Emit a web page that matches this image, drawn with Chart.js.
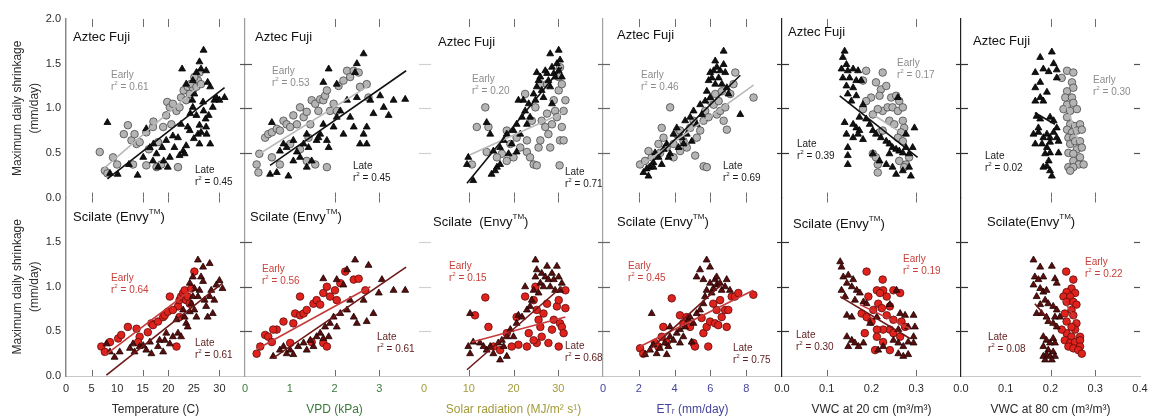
<!DOCTYPE html>
<html>
<head>
<meta charset="utf-8">
<script src="https://cdn.jsdelivr.net/npm/chart.js@4.4.1/dist/chart.umd.min.js"></script>
<style>
body { margin: 0; background: #fff; }
#wrap { position: relative; width: 1149px; height: 419px; }
#wrap canvas { position: absolute; left: 0; top: 0; }
</style>
</head>
<body>
<div id="wrap"></div>
<script>
// x axes, one per driver
const drivers = ['Temperature (C)', 'VPD (kPa)', 'Solar radiation (MJ/m² s¹)', 'ETᵣ (mm/day)', 'VWC at 20 cm (m³/m³)', 'VWC at 80 cm (m³/m³)']
const xMax = [35, 4, 40, 10, 0.4, 0.4]
const xStep = [5, 1, 10, 2, 0.1, 0.1]
const innerTicks = [[5, 15, 20, 30], [2, 3], [10, 20, 30], [2, 4, 6, 8], [0.1, 0.3], [0.2, 0.3]]
const yTitle = ['Maximum daily shrinkage', '(mm/day)']
const scilateNames = ['Scilate (Envy', 'Scilate (Envy', 'Scilate  (Envy', 'Scilate (Envy', 'Scilate (Envy', 'Scilate(Envy']

const r2FujiEarly = ['0.61', '0.53', '0.20', '0.46', '0.17', '0.30']
const r2FujiLate = ['0.45', '0.45', '0.71', '0.69', '0.39', '0.02']
const r2ScilateEarly = ['0.64', '0.56', '0.15', '0.45', '0.19', '0.22']
const r2ScilateLate = ['0.61', '0.61', '0.68', '0.75', '0.30', '0.08']

// Aztec Fuji, early (circles) and late (triangles)
const fujiTempEarly = [[6.6,.51],[7.6,.30],[8.1,.27],[9.2,.45],[10.0,.37],[11.3,.71],[12.1,.81],[12.8,.64],[13.4,.71],[13.8,.60],[14.4,.62],[15.7,.73],[16.2,.54],[17.0,.79],[17.1,.85],[18.0,.62],[19.0,.79],[19.8,1.07],[19.6,.92],[20.3,1.01],[20.6,.82],[20.9,1.05],[21.6,.97],[22.2,1.01],[22.5,1.12],[23.0,1.20],[23.5,1.09],[23.8,1.24],[24.3,1.27],[24.8,1.20],[25.5,1.24],[25.8,1.31],[26.1,1.40],[26.4,1.27],[21.9,.34],[18.6,.37],[17.7,.34],[15.7,.36],[13.1,.37],[25.1,1.35],[24.2,1.16]]
const fujiTempLate = [[8.1,.84],[8.6,.27],[10.1,.26],[12.3,.37],[14.0,.25],[15.7,.77],[16.4,.56],[17.1,.60],[17.7,.49],[18.0,.34],[18.8,.56],[19.1,.41],[19.6,.64],[20.3,.45],[20.9,.69],[21.2,.56],[21.9,.67],[22.5,.82],[22.9,.52],[23.2,.49],[23.5,.58],[23.8,.79],[24.2,.75],[24.3,.94],[24.7,1.09],[24.8,1.01],[25.1,1.16],[25.5,.92],[25.8,.71],[26.1,.81],[26.4,.73],[26.8,1.07],[26.9,.97],[27.3,.88],[27.4,.79],[27.5,.71],[27.9,.92],[28.2,.60],[28.7,1.01],[29.0,1.09],[26.9,1.65],[26.1,1.52],[26.4,1.44],[25.5,1.40],[24.8,1.31],[22.7,1.44],[23.5,1.27],[27.4,1.42],[27.7,1.29],[28.2,1.24],[29.4,1.12],[30.0,1.09],[31.0,1.12],[22.2,.47],[19.9,.34],[17.0,.41],[15.1,.45],[26.1,.60],[25.0,.66]]
const fujiVpdEarly = [[.30,.28],[.26,.37],[.32,.49],[.45,.67],[.52,.71],[.60,.73],[.71,.77],[.78,.75],[.86,.86],[.93,.82],[1.01,.79],[1.08,.92],[1.16,.82],[1.23,1.01],[1.31,.90],[1.38,.96],[1.46,.82],[1.49,1.09],[1.57,1.05],[1.64,.97],[1.68,1.10],[1.75,1.09],[1.79,1.14],[1.83,1.20],[1.90,.97],[1.98,1.05],[2.05,.97],[2.09,1.25],[2.20,1.31],[2.28,1.42],[2.35,1.35],[2.43,1.42],[2.54,1.40],[2.57,1.24],[2.72,1.27],[2.76,1.12],[1.83,.34],[1.57,.37],[1.38,.41],[.78,.37],[.60,.45],[1.01,.60],[1.23,.54],[1.42,.67]]
const fujiVpdLate = [[.60,.84],[.56,.26],[.71,.28],[.97,.24],[.78,.52],[.86,.60],[.93,.56],[1.08,.64],[1.16,.51],[1.23,.45],[1.31,.60],[1.38,.71],[1.49,.41],[1.60,.64],[1.68,.71],[1.75,.82],[1.83,.64],[1.87,.56],[1.98,.79],[2.05,.90],[2.13,.97],[2.20,.71],[2.28,1.09],[2.35,.90],[2.43,.79],[2.50,1.12],[2.57,.60],[2.65,.71],[2.72,.60],[2.80,1.09],[2.87,.94],[3.02,1.14],[3.21,.92],[3.32,1.09],[3.58,1.10],[2.65,1.61],[2.50,1.50],[2.46,1.40],[1.87,1.44],[1.75,1.29],[2.05,1.27],[1.64,.67],[1.42,.56],[1.08,.41],[1.38,.34],[2.72,.79],[3.10,1.01]]
const fujiSolarEarly = [[13.7,1.01],[11.8,.79],[14.4,.79],[10.7,.37],[18.5,.75],[19.3,.60],[20.7,.67],[22.6,1.16],[23.0,.51],[23.7,.45],[24.5,.37],[25.2,.36],[25.6,.56],[26.0,.64],[26.3,.86],[27.1,.79],[27.5,.94],[27.8,.71],[28.2,.56],[28.6,.82],[29.0,1.09],[29.3,.97],[29.7,.90],[30.1,1.20],[30.4,.64],[30.8,.79],[31.2,.97],[31.6,1.09],[30.8,1.27],[30.1,1.35],[30.4,1.46],[26.0,1.27],[27.5,1.27],[24.9,1.01],[24.1,.86],[23.0,.64],[21.5,.56],[20.0,.45],[18.5,.41],[17.4,.49],[16.3,.45],[14.0,.51],[30.3,.36],[31.2,.64]]
const fujiSolarLate = [[9.9,.45],[9.6,.37],[11.0,.19],[14.0,.84],[14.8,.71],[15.5,.52],[16.3,.34],[17.0,.56],[17.8,.64],[18.5,.71],[18.9,.49],[19.6,.60],[20.0,.75],[20.7,.82],[21.5,.71],[21.9,.90],[22.2,1.09],[22.6,.97],[23.4,1.05],[23.7,.90],[24.5,1.16],[24.9,1.09],[25.2,1.24],[25.6,1.31],[26.0,1.35],[26.3,1.20],[26.7,1.12],[27.1,1.42],[27.5,1.39],[27.8,1.31],[28.2,1.24],[28.6,1.46],[29.0,1.39],[29.3,1.35],[29.7,1.50],[30.1,1.42],[30.4,1.54],[30.8,1.35],[28.2,1.61],[30.1,1.65],[25.2,1.40],[23.0,.82],[20.7,.51],[17.0,.37],[15.9,.30],[15.1,.26],[21.1,1.09],[28.6,1.05]]
const fujiEtEarly = [[2.07,.37],[2.35,.41],[2.72,.45],[3.28,.78],[3.38,.67],[3.75,1.01],[3.56,.56],[3.94,.60],[4.12,.71],[4.31,.75],[4.50,.63],[4.68,.56],[4.87,.78],[5.06,.86],[5.15,.47],[5.24,.67],[5.43,.75],[5.62,.86],[5.71,.97],[5.90,.90],[5.99,1.08],[6.18,1.04],[6.27,1.16],[6.36,.93],[6.46,1.08],[6.55,.97],[6.64,1.19],[6.74,.86],[6.83,1.01],[6.92,.76],[7.11,1.16],[7.29,1.27],[7.39,1.40],[8.41,1.12],[5.62,.35],[5.80,.34],[4.31,.52],[3.10,.60],[2.54,.52],[3.19,.50],[3.94,.45]]
const fujiEtLate = [[2.26,.28],[2.54,.24],[2.63,.34],[2.82,.39],[2.91,.50],[3.10,.45],[3.28,.37],[3.38,.54],[3.56,.60],[3.75,.49],[3.94,.71],[4.12,.78],[4.22,.56],[4.40,.67],[4.59,.86],[4.68,.71],[4.87,.90],[4.96,.63],[5.06,.97],[5.24,.82],[5.43,1.04],[5.52,.93],[5.71,1.08],[5.80,1.19],[5.90,1.31],[5.99,1.12],[6.08,1.34],[6.18,1.42],[6.27,1.27],[6.36,1.46],[6.46,1.34],[6.55,1.42],[6.64,1.27],[6.74,1.49],[6.83,1.40],[6.92,1.23],[7.01,1.16],[6.74,1.64],[5.99,1.40],[6.27,1.53],[7.67,.93],[2.82,.34],[2.44,.32],[3.66,.45],[4.50,.60]]
const fujiVwc20Early = [[.188,1.42],[.225,1.40],[.210,1.29],[.221,1.21],[.233,1.25],[.199,1.12],[.188,1.08],[.181,.99],[.218,1.14],[.225,.97],[.236,1.01],[.244,1.12],[.255,1.14],[.262,1.08],[.247,1.01],[.259,.97],[.270,1.01],[.203,.93],[.214,.99],[.240,.86],[.251,.82],[.270,.86],[.273,.78],[.266,.73],[.259,.67],[.270,.63],[.218,.73],[.225,.75],[.203,.49],[.210,.45],[.214,.37],[.214,.28],[.277,.37],[.284,.45],[.273,.34],[.262,.41],[.181,1.31]]
const fujiVwc20Late = [[.140,1.64],[.136,1.57],[.144,1.49],[.133,1.44],[.147,1.42],[.159,1.44],[.170,1.42],[.136,1.34],[.151,1.34],[.166,1.31],[.177,1.31],[.144,1.25],[.159,1.23],[.147,1.16],[.166,1.14],[.155,1.08],[.181,1.04],[.140,.84],[.159,.82],[.166,.78],[.173,.75],[.144,.71],[.159,.67],[.170,.71],[.181,.65],[.147,.56],[.173,.90],[.188,.88],[.196,.82],[.203,.75],[.210,.71],[.221,.67],[.233,.63],[.240,.60],[.247,.56],[.255,.54],[.262,.52],[.270,.50],[.277,.56],[.284,.49],[.292,.56],[.296,.78],[.277,.71],[.259,1.12],[.240,.49],[.247,.34],[.255,.26],[.270,.30],[.284,.34],[.288,.24],[.233,.37],[.218,.41],[.147,.37],[.147,.47],[.203,.49]]
const fujiVwc80Early = [[.237,1.42],[.251,1.40],[.225,1.34],[.248,1.29],[.237,1.19],[.251,1.23],[.233,1.12],[.248,1.12],[.237,1.04],[.251,1.06],[.229,.99],[.244,.97],[.259,.99],[.237,.90],[.244,.82],[.255,.80],[.266,.82],[.237,.76],[.248,.73],[.259,.75],[.270,.76],[.240,.67],[.251,.67],[.244,.60],[.255,.63],[.266,.63],[.259,.54],[.270,.56],[.240,.50],[.251,.49],[.266,.45],[.251,.41],[.263,.37],[.274,.37],[.240,.34],[.251,.34],[.244,.30]]
const fujiVwc80Late = [[.203,1.63],[.177,1.57],[.207,1.50],[.184,1.44],[.196,1.41],[.214,1.43],[.166,1.40],[.177,1.29],[.166,1.23],[.192,1.18],[.177,1.12],[.166,1.08],[.184,1.08],[.214,1.34],[.169,.91],[.177,.88],[.199,.90],[.207,.86],[.214,.78],[.162,.71],[.173,.73],[.184,.67],[.192,.71],[.199,.67],[.207,.73],[.214,.67],[.166,.60],[.181,.60],[.192,.56],[.199,.62],[.188,.49],[.199,.50],[.196,.41],[.192,.35],[.184,.34],[.199,.30],[.203,.24],[.218,.50],[.218,.63],[.173,.78]]

// Scilate (Envy), early (circles) and late (triangles)
const scilateTempEarly = [[6.9,.33],[7.6,.27],[8.6,.38],[10.2,.42],[10.8,.46],[12.1,.55],[13.8,.53],[14.4,.44],[16.7,.59],[17.0,.57],[18.0,.61],[19.0,.66],[19.3,.68],[19.9,.72],[20.3,.89],[21.9,.78],[22.2,.85],[22.5,.89],[22.9,.93],[23.2,.96],[23.5,.85],[23.8,.89],[24.2,.81],[24.5,.98],[25.1,1.17],[21.6,.33],[14.1,.38],[22.2,.66],[20.9,.74],[16.0,.49]]
const scilateTempLate = [[7.9,.36],[8.6,.27],[9.5,.21],[10.5,.27],[12.5,.31],[13.1,.36],[13.4,.27],[14.4,.33],[15.1,.34],[15.7,.29],[16.4,.38],[16.7,.25],[18.0,.33],[18.3,.40],[19.0,.27],[19.3,.40],[19.6,.48],[20.3,.36],[20.9,.44],[21.6,.63],[21.9,.48],[22.5,.44],[22.9,.74],[23.2,.66],[23.5,.59],[23.8,.55],[24.2,.72],[24.5,.81],[24.8,.89],[25.1,.74],[25.5,.66],[25.8,.89],[26.1,.96],[26.4,1.11],[26.8,1.06],[27.1,.85],[27.4,.78],[27.7,.66],[28.1,.89],[28.4,.96],[28.7,.70],[29.0,.85],[29.4,1.02],[30.0,1.07],[30.6,.98],[25.8,1.30],[26.8,1.22],[28.1,1.26],[24.8,1.11],[24.2,1.04],[25.1,.98]]
const scilateVpdEarly = [[.26,.25],[.34,.33],[.45,.46],[.52,.44],[.71,.52],[1.08,.59],[1.12,.70],[1.23,.68],[1.23,.89],[1.31,.70],[1.38,.74],[1.53,.81],[1.60,.85],[1.68,.80],[1.75,.93],[1.83,1.00],[1.90,.89],[2.01,.96],[2.05,.85],[2.13,1.04],[2.24,1.17],[2.43,1.08],[2.54,1.09],[2.69,.96],[1.75,.37],[1.83,.33],[1.49,.38],[1.01,.37],[.60,.38],[.86,.61],[.63,.52]]
const scilateVpdLate = [[.63,.22],[.78,.29],[.93,.25],[1.01,.29],[1.08,.24],[1.19,.33],[1.31,.37],[1.38,.29],[1.46,.40],[1.60,.44],[1.68,.48],[1.75,.42],[1.79,.55],[1.90,.59],[1.98,.66],[2.05,.55],[2.13,.70],[2.28,.74],[2.35,.85],[2.43,.66],[2.50,.59],[2.65,.85],[2.72,.61],[2.87,.70],[2.99,.93],[3.06,1.08],[3.32,.96],[3.58,.96],[1.75,1.09],[2.05,1.08],[2.28,1.19],[2.46,1.30],[2.76,1.24],[2.20,1.02],[1.87,.44],[.86,.33],[1.53,.33]]
const scilateSolarEarly = [[13.7,.88],[11.4,.68],[14.4,.55],[18.5,.48],[20.7,.66],[22.6,.89],[24.5,.85],[24.9,1.00],[25.2,.74],[25.6,.63],[26.0,.55],[26.3,.44],[26.7,.70],[27.5,.81],[28.6,.52],[29.0,.63],[29.7,.78],[30.1,.85],[30.4,.59],[30.8,.55],[31.2,.48],[31.6,.76],[31.6,.96],[27.8,.37],[30.1,.33],[25.2,.37],[24.5,.40],[23.0,.33],[21.1,.35],[19.6,.33],[17.0,.29],[15.5,.33],[23.4,.48]]
const scilateSolarLate = [[10.3,.70],[9.9,.33],[10.3,.25],[11.0,.38],[12.5,.37],[13.3,.33],[14.0,.29],[14.8,.33],[15.5,.25],[16.6,.37],[17.4,.40],[17.8,.33],[18.5,.44],[19.3,.52],[20.7,.59],[21.1,.68],[21.9,.66],[23.0,.74],[23.7,.78],[24.1,.85],[24.5,.96],[24.9,1.11],[25.2,1.19],[25.6,.93],[26.0,1.04],[26.3,1.15],[26.7,1.00],[27.1,1.11],[27.5,1.23],[27.8,1.08],[28.2,1.00],[28.6,1.15],[29.0,1.08],[29.3,.96],[29.7,1.23],[30.1,1.11],[30.4,.96],[30.8,1.04],[24.9,1.30],[18.5,.22],[17.0,.18],[20.0,.44],[22.6,1.00]]
const scilateEtEarly = [[2.07,.31],[2.25,.25],[2.91,.37],[3.28,.44],[3.37,.55],[3.84,.87],[4.30,.68],[4.49,.59],[4.86,.55],[5.05,.37],[5.14,.33],[5.51,.65],[5.61,.48],[5.79,.55],[5.88,.33],[5.98,.61],[6.16,.81],[6.26,.59],[6.35,.74],[6.44,.57],[6.54,.85],[6.63,.66],[6.82,.74],[6.91,.55],[7.00,.74],[7.19,.89],[7.37,.89],[7.56,.93],[8.40,.91],[3.56,.38],[3.09,.33],[4.67,.66]]
const scilateEtLate = [[2.35,.24],[2.63,.29],[2.81,.35],[3.00,.25],[3.18,.31],[3.46,.37],[3.65,.33],[3.74,.44],[3.93,.40],[4.12,.48],[4.30,.52],[4.49,.44],[4.58,.55],[4.77,.63],[4.86,.66],[5.05,.59],[5.23,.70],[5.42,.74],[5.61,.81],[5.70,.89],[5.79,.96],[5.98,1.04],[6.07,.93],[6.16,.98],[6.26,1.08],[6.35,1.02],[6.54,1.04],[6.63,.96],[6.82,1.00],[6.91,1.08],[7.09,.96],[5.79,1.30],[5.98,1.22],[5.23,1.11],[5.42,1.19],[5.61,1.08],[6.35,1.11],[2.72,.70],[3.74,.55],[4.30,.37],[3.56,.24],[4.95,.38]]
const scilateVwc20Early = [[.189,1.17],[.225,1.08],[.212,.96],[.226,.96],[.193,.89],[.219,.93],[.234,.89],[.249,.96],[.264,.93],[.178,.70],[.189,.66],[.204,.74],[.215,.81],[.223,.76],[.234,.68],[.241,.78],[.249,.63],[.267,.61],[.275,.55],[.241,.52],[.226,.52],[.212,.52],[.185,.48],[.212,.44],[.226,.38],[.249,.48],[.208,.29],[.241,.29],[.264,.44],[.200,.61]]
const scilateVwc20Late = [[.130,1.28],[.133,1.22],[.137,1.11],[.148,1.13],[.159,1.08],[.145,1.04],[.133,.96],[.156,1.00],[.167,.96],[.174,.93],[.141,.89],[.163,.85],[.182,.83],[.145,.68],[.156,.66],[.189,.81],[.241,.80],[.256,.96],[.264,.70],[.275,.68],[.294,.68],[.282,.55],[.297,.55],[.260,.52],[.294,.44],[.249,.40],[.260,.37],[.271,.33],[.282,.38],[.294,.37],[.260,.25],[.271,.22],[.282,.24],[.145,.44],[.156,.40],[.163,.37],[.148,.33],[.171,.33],[.182,.37],[.215,.29],[.226,.33],[.212,.66],[.197,.59]]
const scilateVwc80Early = [[.235,1.17],[.251,1.08],[.247,.98],[.236,.94],[.255,.93],[.229,.89],[.244,.89],[.236,.83],[.251,.83],[.258,.80],[.247,.74],[.232,.70],[.251,.68],[.236,.61],[.258,.59],[.255,.52],[.236,.48],[.247,.44],[.266,.44],[.232,.40],[.244,.37],[.255,.38],[.266,.40],[.240,.33],[.251,.31],[.266,.33],[.262,.29],[.270,.25],[.247,.55],[.225,.52]]
const scilateVwc80Late = [[.162,1.30],[.177,1.22],[.203,1.23],[.165,1.11],[.173,1.08],[.184,1.11],[.162,1.02],[.177,.98],[.210,1.09],[.214,1.04],[.184,.94],[.191,.96],[.169,.89],[.188,.85],[.195,.81],[.177,.80],[.206,.78],[.214,.74],[.169,.70],[.180,.70],[.191,.66],[.210,.66],[.195,.61],[.206,.59],[.214,.55],[.184,.44],[.191,.40],[.199,.37],[.206,.42],[.210,.37],[.184,.33],[.195,.29],[.206,.27],[.191,.24],[.184,.22],[.199,.22],[.210,.22],[.188,.18],[.203,.18],[.221,.66]]

// fitted lines: [x1, y1, x2, y2] per driver
const fujiEarlyFit = [[7.3,.32,26.1,1.25],[.26,.47,2.76,1.25],[10.3,.48,31.6,.96],[2.07,.35,8.41,1.26],[.203,.93,.259,.75],[.235,1.05,.262,.62]]
const fujiLateFit = [[8.1,.21,31.0,1.23],[.56,.36,3.6,1.42],[9.6,.16,30.8,1.46],[2.35,.32,7.67,1.37],[.129,1.14,.303,.45],[.165,.95,.21,.82]]
const scilateEarlyFit = [[7.6,.23,24.8,.98],[.26,.30,2.8,1.0],[10.7,.38,31.6,.66],[2.07,.33,8.40,.96],[.174,.80,.286,.53],[.229,.85,.262,.59]]
const scilateLateFit = [[7.9,.01,30.6,1.04],[.63,.20,3.6,1.22],[9.6,.07,30.8,1.00],[2.2,.22,6.6,1.02],[.130,.89,.286,.42],[.165,.81,.21,.55]]

const fujiEarly = [fujiTempEarly, fujiVpdEarly, fujiSolarEarly, fujiEtEarly, fujiVwc20Early, fujiVwc80Early]
const fujiLate = [fujiTempLate, fujiVpdLate, fujiSolarLate, fujiEtLate, fujiVwc20Late, fujiVwc80Late]
const scilateEarly = [scilateTempEarly, scilateVpdEarly, scilateSolarEarly, scilateEtEarly, scilateVwc20Early, scilateVwc80Early]
const scilateLate = [scilateTempLate, scilateVpdLate, scilateSolarLate, scilateEtLate, scilateVwc20Late, scilateVwc80Late]

// layout
const W = 1149, H = 419
const plotLeft = 66, panelW = 179
const rowTop = [19, 197.5], rowBottom = [197.5, 376]
const FONT = '"Liberation Sans", Arial, sans-serif'
const xColors = ['#2b2b2b', '#3a7a3a', '#a39b3c', '#45459c', '#2b2b2b', '#2b2b2b']
const borderColors = ['#8a8a8a', '#9a9a9a', null, '#a0a0a0', '#222222', '#222222']
const crossColors = [null, '#555555', '#d0d0d0', '#666666', '#333333', '#333333']
const titleOffset = [[[7,18],[10,18],[14,23],[14,16],[6,13],[12,22]], [[7,19.5],[5,19.5],[9,24.5],[14,24.5],[11,26.5],[26,24.5]]]
const earlyOffset = [[[45,56],[27,52],[48,60],[38,56],[115,44],[132,61]], [[45,80.5],[17,71.5],[25,68.5],[25,68.5],[121,61.5],[124,64.5]]]
const lateOffset = [[[129,151],[108,147],[141,153],[120,147],[15,125],[24,137]], [[129,145.5],[132,139.5],[141,148.5],[130,150.5],[14,137.5],[27,139.5]]]
const style = [
    { circle: '#b4b4b4', circleEdge: '#4a4a4a', tri: '#111111', triEdge: '#000000', earlyLine: '#b9b9b9', lateLine: '#111111', earlyText: '#8c8c8c', lateText: '#1a1a1a' },
    { circle: '#e0221c', circleEdge: '#5e0c0c', tri: '#5a0d0d', triEdge: '#1e0303', earlyLine: '#c83a3a', lateLine: '#6e1818', earlyText: '#c8403a', lateText: '#5e1c1c' }
]

function pts(a) {
    return a.map(p => ({ x: p[0], y: p[1] }))
}

function fit(f) {
    return [{ x: f[0], y: f[1] }, { x: f[2], y: f[3] }]
}

function drawRich(ctx, parts, x, y, size, color) {
    ctx.fillStyle = color
    ctx.textBaseline = 'middle'
    ctx.textAlign = 'left'
    for (const p of parts) {
        const s = p.sup ? size * 0.62 : size
        ctx.font = s + 'px ' + FONT
        ctx.fillText(p.t, x, p.sup ? y - size * 0.4 : y)
        x += ctx.measureText(p.t).width
    }
}

function seg(ctx, x1, y1, x2, y2) {
    ctx.beginPath()
    ctx.moveTo(x1, y1)
    ctx.lineTo(x2, y2)
    ctx.stroke()
}

const panelMarks = {
    id: 'panelMarks',
    afterDatasetsDraw(chart, args, o) {
        const { ctx, chartArea: a } = chart
        const xs = chart.scales.x, ys = chart.scales.y
        const col = o.col, row = o.row
        ctx.save()
        ctx.lineWidth = 1.2
        // ticks across the panel border
        if (crossColors[col]) {
            ctx.strokeStyle = crossColors[col]
            for (const v of [0.5, 1, 1.5]) {
                const py = Math.round(ys.getPixelForValue(v)) + 0.5
                seg(ctx, a.left - 5, py, a.left + 7, py)
            }
        }
        if (col == 5) {
            ctx.strokeStyle = '#555555'
            for (const v of [0.5, 1, 1.5]) {
                const py = Math.round(ys.getPixelForValue(v)) + 0.5
                seg(ctx, a.right - 6, py, a.right, py)
            }
        }
        // short ticks on top and bottom edges
        ctx.strokeStyle = '#6e6e6e'
        ctx.lineWidth = 1
        for (const v of innerTicks[col]) {
            const px = Math.round(xs.getPixelForValue(v)) + 0.5
            seg(ctx, px, a.top, px, a.top + (row == 0 ? 8 : 5))
            seg(ctx, px, a.bottom, px, a.bottom - (row == 0 ? 5 : 6))
        }
        // texts
        const st = style[row]
        const t = titleOffset[row][col]
        const title = row == 0 ? [{ t: 'Aztec Fuji' }] : [{ t: scilateNames[col] }, { t: 'TM', sup: true }, { t: ')' }]
        drawRich(ctx, title, a.left + t[0], a.top + t[1], 13, '#111111')
        const e = earlyOffset[row][col], l = lateOffset[row][col]
        const r2e = row == 0 ? r2FujiEarly[col] : r2ScilateEarly[col]
        const r2l = row == 0 ? r2FujiLate[col] : r2ScilateLate[col]
        drawRich(ctx, [{ t: 'Early' }], a.left + e[0], a.top + e[1], 10, st.earlyText)
        drawRich(ctx, [{ t: 'r' }, { t: '2', sup: true }, { t: ' = ' + r2e }], a.left + e[0], a.top + e[1] + 12.5, 10, st.earlyText)
        drawRich(ctx, [{ t: 'Late' }], a.left + l[0], a.top + l[1], 10, st.lateText)
        drawRich(ctx, [{ t: 'r' }, { t: '2', sup: true }, { t: ' = ' + r2l }], a.left + l[0], a.top + l[1] + 12.5, 10, st.lateText)
        ctx.restore()
    }
}

function makeChart(col, row) {
    const canvas = document.createElement('canvas')
    canvas.width = W
    canvas.height = H
    document.getElementById('wrap').appendChild(canvas)
    const st = style[row]
    const early = (row == 0 ? fujiEarly : scilateEarly)[col]
    const late = (row == 0 ? fujiLate : scilateLate)[col]
    const earlyFit = (row == 0 ? fujiEarlyFit : scilateEarlyFit)[col]
    const lateFit = (row == 0 ? fujiLateFit : scilateLateFit)[col]
    const left = plotLeft + col * panelW
    new Chart(canvas, {
        type: 'scatter',
        data: {
            datasets: [
                {
                    data: pts(early), pointStyle: 'circle', pointRadius: 3.8,
                    pointBackgroundColor: st.circle, pointBorderColor: st.circleEdge, pointBorderWidth: 0.8, order: 3
                },
                {
                    data: pts(late), pointStyle: 'triangle', pointRadius: 4,
                    pointBackgroundColor: st.tri, pointBorderColor: st.triEdge, pointBorderWidth: 0.8, order: 2
                },
                {
                    type: 'line', data: fit(earlyFit), borderColor: st.earlyLine, borderWidth: 1.6,
                    pointRadius: 0, fill: false, tension: 0, order: 1
                },
                {
                    type: 'line', data: fit(lateFit), borderColor: st.lateLine, borderWidth: 1.6,
                    pointRadius: 0, fill: false, tension: 0, order: 0
                }
            ]
        },
        options: {
            responsive: false,
            devicePixelRatio: 1,
            animation: false,
            events: [],
            layout: {
                autoPadding: false,
                padding: {
                    left: col == 0 ? 0 : left,
                    right: W - (left + panelW),
                    top: rowTop[row],
                    bottom: row == 1 ? 0 : H - rowBottom[row]
                }
            },
            plugins: {
                legend: { display: false },
                tooltip: { enabled: false },
                panelMarks: { col: col, row: row }
            },
            scales: {
                x: {
                    type: 'linear',
                    min: 0,
                    max: xMax[col],
                    display: row == 1,
                    grid: { display: false, drawTicks: false },
                    border: { display: true, color: '#c8c8c8', width: 1 },
                    ticks: {
                        stepSize: xStep[col],
                        color: xColors[col],
                        font: { size: 11 },
                        padding: 6,
                        maxRotation: 0,
                        autoSkip: false,
                        callback: v => (col < 5 && Math.abs(v - xMax[col]) < 1e-9) ? '' : (xStep[col] < 1 ? v.toFixed(1) : String(v))
                    },
                    title: {
                        display: true, text: drivers[col], color: xColors[col],
                        font: { size: 12 }, padding: { top: 0, bottom: 2 }
                    },
                    afterFit: s => { s.height = row == 1 ? 43 : 0; s.paddingLeft = 0; s.paddingRight = 0 }
                },
                y: {
                    type: 'linear',
                    min: 0,
                    max: 2,
                    grid: { display: false, drawTicks: false },
                    border: { display: borderColors[col] != null, color: borderColors[col] || '#ffffff', width: col == 0 ? 1.5 : 1.2 },
                    ticks: {
                        display: col == 0,
                        stepSize: 0.5,
                        color: '#2b2b2b',
                        font: { size: 11 },
                        padding: 5,
                        callback: v => (row == 1 && v >= 2) ? '' : v.toFixed(1)
                    },
                    title: {
                        display: col == 0, text: yTitle, color: '#2b2b2b',
                        font: { size: 12, lineHeight: 17 / 12 }, padding: { top: 9.5, bottom: 0 }
                    },
                    afterFit: s => { s.width = col == 0 ? 66 : 0; s.paddingTop = 0; s.paddingBottom = 0 }
                }
            }
        },
        plugins: [panelMarks]
    })
}

Chart.defaults.font.family = FONT
Chart.defaults.color = '#2b2b2b'

for (let row = 0; row < 2; row++) {
    for (let col = 0; col < 6; col++) {
        makeChart(col, row)
    }
}
</script>
</body>
</html>
